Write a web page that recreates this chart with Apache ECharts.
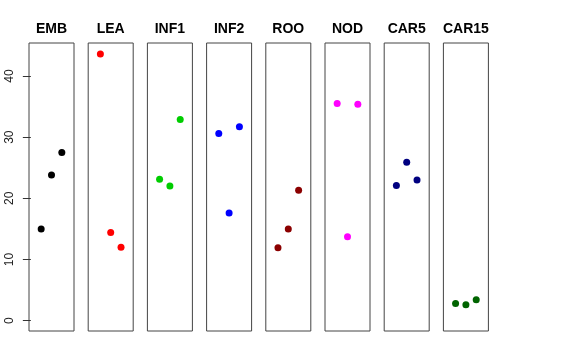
<!DOCTYPE html>
<html>
<head>
<meta charset="utf-8">
<script src="https://cdn.jsdelivr.net/npm/echarts@6/dist/echarts.min.js"></script>
<style>html,body{margin:0;padding:0;background:#fff}#c{width:576px;height:360px}</style>
</head>
<body>
<div id="c"></div>
<script>
// Data
var panels = ['EMB', 'LEA', 'INF1', 'INF2', 'ROO', 'NOD', 'CAR5', 'CAR15'];
var positions = [1, 2, 3];
var EMB = [15.0, 23.8, 27.5];
var LEA = [43.6, 14.4, 12.0];
var INF1 = [23.1, 22.0, 32.9];
var INF2 = [30.6, 17.6, 31.7];
var ROO = [11.9, 15.0, 21.3];
var NOD = [35.5, 13.7, 35.4];
var CAR5 = [22.1, 25.9, 23.0];
var CAR15 = [2.8, 2.6, 3.4];
var values = [EMB, LEA, INF1, INF2, ROO, NOD, CAR5, CAR15];
var colors = ['#000000', '#FF0000', '#00CD00', '#0000FF', '#8B0000', '#FF00FF', '#000080', '#006400'];
var yTicks = [0, 10, 20, 30, 40];

(function () {
  var chart = echarts.init(document.getElementById('c'));
  var grids = [], xAxes = [], yAxes = [], series = [], graphics = [];
  var left0 = 29, step = 59.2, pw = 45, ptop = 43, ph = 288;
  panels.forEach(function (name, i) {
    var l = left0 + i * step;
    grids.push({left: l, top: ptop, width: pw, height: ph, show: true, borderColor: '#444', borderWidth: 1, backgroundColor: 'transparent'});
    xAxes.push({type: 'value', gridIndex: i, min: -0.18, max: 4.18, show: false});
    yAxes.push({
      type: 'value', gridIndex: i, min: -1.7, max: 45.4,
      show: i === 0,
      splitLine: {show: false},
      axisLine: {show: false},
      axisTick: {show: true, length: 8, customValues: yTicks, lineStyle: {color: '#333'}},
      axisLabel: {show: true, customValues: yTicks, rotate: 90, margin: 13, fontSize: 12, color: '#222', fontFamily: 'Liberation Sans, Arial, sans-serif'}
    });
    series.push({
      type: 'scatter', xAxisIndex: i, yAxisIndex: i,
      symbolSize: 7, itemStyle: {color: colors[i], opacity: 1},
      data: positions.map(function (p, k) { return [p, values[i][k]]; }),
      silent: true
    });
    graphics.push({type: 'text', x: l + pw / 2, y: 22, style: {text: name, textAlign: 'center', fill: '#000', font: 'bold 14px "Liberation Sans", Arial, sans-serif'}});
  });
  chart.setOption({
    animation: false,
    grid: grids, xAxis: xAxes, yAxis: yAxes, series: series,
    graphic: graphics
  });
})();
</script>
</body>
</html>
